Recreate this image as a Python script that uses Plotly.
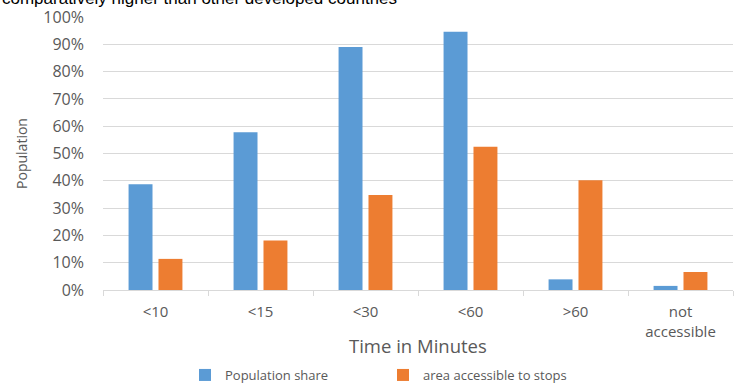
import plotly.graph_objects as go

categories = ["<10", "<15", "<30", "<60", ">60", "not<br>accessible"]
population_share = [38.7, 57.8, 89.0, 94.6, 3.9, 1.5]
area_accessible = [11.4, 18.1, 34.8, 52.5, 40.2, 6.6]
y_ticks = [0, 10, 20, 30, 40, 50, 60, 70, 80, 90, 100]
y_tick_labels = [f"{v}%" for v in y_ticks]

FONT = "'Open Sans', Lato, sans-serif"
GREY = "#595959"

fig = go.Figure()
fig.add_trace(go.Bar(name="Population share", x=categories, y=population_share,
                     marker=dict(color="#5B9BD5", line=dict(width=0))))
fig.add_trace(go.Bar(name="area accessible to stops", x=categories, y=area_accessible,
                     marker=dict(color="#ED7D31", line=dict(width=0))))

fig.update_layout(
    width=738, height=383,
    margin=dict(l=103, r=5, t=17, b=93, autoexpand=False),
    paper_bgcolor="white", plot_bgcolor="white",
    barmode="group", bargap=0.43, bargroupgap=0.2,
    font=dict(family=FONT, color=GREY, size=14),
    showlegend=True,
    legend=dict(orientation="h", x=(185 - 103) / 630, xanchor="left",
                y=(290 - 375) / 273, yanchor="middle",
                font=dict(size=13, color=GREY), entrywidth=153, itemwidth=30),
    xaxis=dict(
        showgrid=False, showline=True, linecolor="#d9d9d9", linewidth=1,
        ticks="outside", tickson="boundaries", ticklen=5, tickcolor="#d9d9d9",
        tickfont=dict(size=15, color=GREY), ticklabelstandoff=8,
    ),
    yaxis=dict(
        range=[0, 100], tickvals=y_ticks, ticktext=y_tick_labels,
        showgrid=True, gridcolor="#d9d9d9", gridwidth=1, zeroline=False,
        showline=False, ticks="", tickfont=dict(size=16, color=GREY),
        ticklabelstandoff=18,
        title=dict(text="Population", font=dict(size=14, color=GREY), standoff=12),
    ),
    annotations=[
        dict(text="Time in Minutes", xref="paper", yref="paper", x=0.5, y=(290 - 345) / 273,
             xanchor="center", yanchor="middle", showarrow=False,
             font=dict(size=18.5, color=GREY)),
        dict(text="comparatively higher than other developed countries",
             xref="paper", yref="paper", x=-103 / 630, y=1.026, xanchor="left", yanchor="bottom",
             showarrow=False,
             font=dict(family="Liberation Sans, Arial, sans-serif", size=17, color="black")),
    ],
)

fig.write_html("out.html", config={"displayModeBar": False},
               post_script="document.body.style.margin='0';document.body.style.padding='0';")
